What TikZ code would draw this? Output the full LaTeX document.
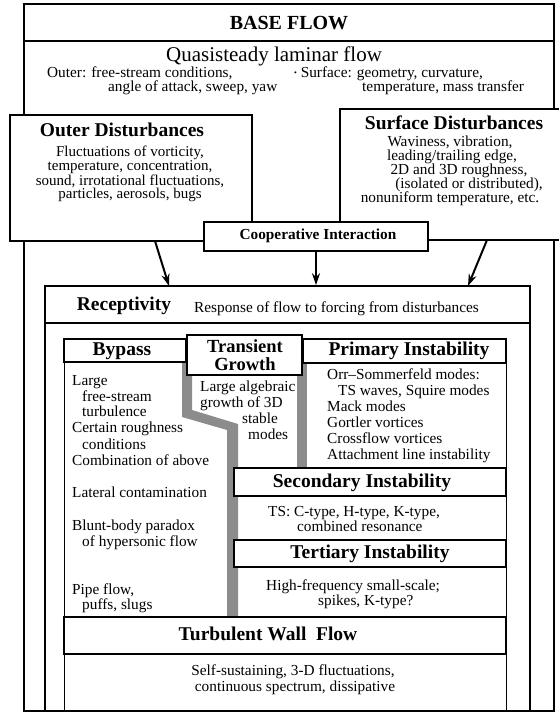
\documentclass[tikz,border=0pt]{standalone}
\usepackage{fontspec}
\setmainfont{Liberation Serif}
\usetikzlibrary{arrows.meta,fit}
\begin{document}
\begin{tikzpicture}[x=1pt,y=-1pt,
  frame/.style={draw, line width=1.2pt, inner sep=0pt, fill=white},
  rframe/.style={draw, line width=1.6pt, inner sep=0pt, fill=white},
  tbox/.style={draw, line width=2pt, inner sep=0pt, fill=white},
  thin/.style={draw, line width=1pt, inner sep=0pt},
  sm/.style={font=\fontsize{15.3}{16}\selectfont, inner sep=0pt, text height=9.5pt, text depth=2.5pt},
  hd/.style={font=\fontsize{19.5}{20}\selectfont\bfseries, inner sep=0pt, text height=13pt, text depth=4pt},
  hds/.style={font=\fontsize{15.3}{16}\selectfont\bfseries, inner sep=0pt, text height=10.5pt, text depth=3pt},
  arr/.style={-{Stealth[length=12pt,width=8pt]}, line width=2pt},
  band/.style={fill=black!45, draw=none}
]
\useasboundingbox (0,0) rectangle (558,714);

% base flow frame
\node[frame, fit={(24,4)(554,711)}] (base) {};
\node[frame, fit={(24,4)(554,41)}] (basehead) {};
\node[font=\fontsize{20}{20}\selectfont\bfseries, inner sep=0pt] (tbase) at (289,23) {BASE FLOW};
\node[font=\fontsize{21}{21}\selectfont, inner sep=0pt, text height=14pt, text depth=4.5pt] (tquasi) at (274,57) {Quasisteady laminar flow};
\node[sm, anchor=west] (tout1) at (47,74) {Outer: free-stream conditions,};
\node[sm, anchor=west] (tout2) at (108,88) {angle of attack, sweep, yaw};
\node[sm, anchor=west] (tsur1) at (294,74) {\raisebox{0.25ex}{\fontsize{8}{8}\selectfont\textbullet}\ Surface: geometry, curvature,};
\node[sm, anchor=west] (tsur2) at (362,88) {temperature, mass transfer};

% outer disturbances
\node[frame, fit={(10,115)(252,241)}] (outerd) {};
\node[hd] (touter) at (122,132) {Outer Disturbances};
\node[font=\fontsize{15}{13.6}\selectfont, inner sep=0pt, align=center, anchor=north] (todesc) at (130,146) {Fluctuations of vorticity,\\temperature, concentration,\\sound, irrotational fluctuations,\\particles, aerosols, bugs};

% surface disturbances
\node[frame, fit={(340,109)(564,240)}] (surfd) {};
\node[hd] (tsurf) at (454,125) {Surface Disturbances};
\node[sm] (ts1) at (450,143) {Waviness, vibration,};
\node[sm] (ts2) at (452,157) {leading/trailing edge,};
\node[sm] (ts3) at (459,171) {2D and 3D roughness,};
\node[sm] (ts4) at (469,185) {(isolated or distributed),};
\node[sm] (ts5) at (450,199) {nonuniform temperature, etc.};

% cooperative interaction
\node[rframe, fit={(204,222)(428,251)}] (coop) {};
\node[hds] (tcoop) at (318,236) {Cooperative Interaction};

% receptivity
\node[rframe, fit={(45,286)(530,711)}] (recep) {};
\node[rframe, fit={(45,286)(530,323)}] (recephead) {};
\node[hd] (trecep) at (124,306) {Receptivity};
\node[sm, anchor=west] (tresp) at (194,309) {Response of flow to forcing from disturbances};

% inner column
\node[thin, fit={(64,339)(506,711)}] (inner) {};

% shaded bands of transient growth
\fill[band] (182,362) -- (192,362) -- (192,410) -- (238,424) -- (238,617) -- (227,617) -- (227,430) -- (182,417) -- cycle;
\fill[band] (297,363) rectangle (307,468);

% title boxes
\node[tbox, fit={(64,339)(186,362)}] (bypass) {};
\node[hd] (tbypass) at (122,351) {Bypass};
\node[tbox, fit={(187,335)(302,375)}] (trans) {};
\node[font=\fontsize{18.5}{17.5}\selectfont\bfseries, inner sep=0pt, align=center] (ttrans) at (245,355) {Transient\\Growth};
\node[tbox, fit={(303,339)(506,363)}] (primary) {};
\node[hd] (tprim) at (409,351) {Primary Instability};

% bypass text
\node[sm, anchor=west] (b1) at (72,382) {Large};
\node[sm, anchor=west] (b2) at (82,398) {free-stream};
\node[sm, anchor=west] (b3) at (82,413) {turbulence};
\node[sm, anchor=west] (b4) at (72,429) {Certain roughness};
\node[sm, anchor=west] (b5) at (82,446) {conditions};
\node[sm, anchor=west] (b6) at (72,462) {Combination of above};
\node[sm, anchor=west] (b7) at (72,494) {Lateral contamination};
\node[sm, anchor=west] (b8) at (72,527) {Blunt-body paradox};
\node[sm, anchor=west] (b9) at (82,543) {of hypersonic flow};
\node[sm, anchor=west] (b10) at (72,591) {Pipe flow,};
\node[sm, anchor=west] (b11) at (82,606) {puffs, slugs};

% transient text
\node[sm, anchor=west] (g1) at (200,388) {Large algebraic};
\node[sm, anchor=west] (g2) at (200,404) {growth of 3D};
\node[sm, anchor=west] (g3) at (242,420) {stable};
\node[sm, anchor=west] (g4) at (248,436) {modes};

% primary text
\node[sm, anchor=west] (p1) at (327,376) {Orr--Sommerfeld modes:};
\node[sm, anchor=west] (p2) at (338,392) {TS waves, Squire modes};
\node[sm, anchor=west] (p3) at (327,408) {Mack modes};
\node[sm, anchor=west] (p4) at (327,424) {Gortler vortices};
\node[sm, anchor=west] (p5) at (327,440) {Crossflow vortices};
\node[sm, anchor=west] (p6) at (327,456) {Attachment line instability};

% secondary
\node[tbox, fit={(234,468)(506,496)}] (second) {};
\node[hd] (tsec) at (362,483) {Secondary Instability};
\node[sm, anchor=west] (s1) at (268,513) {TS: C-type, H-type, K-type,};
\node[sm, anchor=west] (s2) at (297,528) {combined resonance};

% tertiary
\node[tbox, fit={(234,540)(506,567)}] (tert) {};
\node[hd] (tter) at (370,554) {Tertiary Instability};
\node[sm, anchor=west] (r1) at (266,587) {High-frequency small-scale;};
\node[sm, anchor=west] (r2) at (318,602) {spikes, K-type?};

% turbulent wall flow
\node[tbox, fit={(64,617)(506,654)}] (turb) {};
\node[hd] (tturb) at (268,636) {Turbulent Wall\ \ Flow};
\node[sm] (w1) at (293,672) {Self-sustaining, 3-D fluctuations,};
\node[sm] (w2) at (295,688) {continuous spectrum, dissipative};

% arrows
\coordinate (a1s) at (155,241);
\coordinate (a1e) at (169,286);
\coordinate (a3s) at (487,240);
\coordinate (a3e) at (468,286);
\draw[arr] (a1s) -- (a1e);
\draw[arr] (coop.south) -- (coop.south |- recep.north);
\draw[arr] (a3s) -- (a3e);
\end{tikzpicture}
\end{document}
